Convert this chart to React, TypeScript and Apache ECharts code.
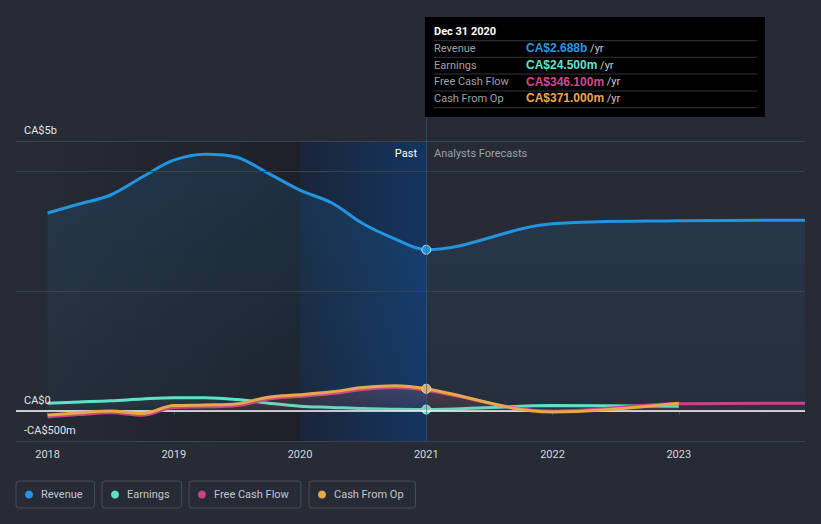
import React, { useEffect, useRef } from 'react';
import * as echarts from 'echarts';

// ---- data (values in CA$ billions, x in decimal years) ----
const pastYears = [2018, 2018.25, 2018.5, 2018.75, 2019, 2019.25, 2019.5, 2019.75, 2020, 2020.25, 2020.5, 2020.75, 2021];
const forecastYears = [2022, 2023, 2024];

const revenuePast = [3.3, 3.45, 3.6, 3.9, 4.18, 4.28, 4.23, 3.96, 3.68, 3.47, 3.12, 2.87, 2.688];
const revenueForecast = [3.12, 3.17, 3.18];
const earningsPast = [0.13, 0.15, 0.17, 0.2, 0.22, 0.22, 0.19, 0.13, 0.08, 0.06, 0.04, 0.03, 0.0245];
const earningsForecast = [0.09, 0.08];
const fcfPast = [-0.1, -0.06, -0.03, -0.07, 0.06, 0.07, 0.09, 0.2, 0.24, 0.29, 0.36, 0.39, 0.3461];
const fcfForecast = [0.0, 0.12, 0.13];
const cfoPast = [-0.067, -0.03, 0.0, -0.04, 0.09, 0.1, 0.12, 0.23, 0.27, 0.32, 0.39, 0.42, 0.371];
const cfoForecast = [-0.015, 0.13];

const seriesNames = ['Revenue', 'Earnings', 'Free Cash Flow', 'Cash From Op'];
const seriesColors = ['#2394df', '#5fe1c8', '#c94389', '#e8a74f'];
const xTickYears = [2018, 2019, 2020, 2021, 2022, 2023];
const tooltipDate = 'Dec 31 2020';
const markerYear = 2021;
const pastLabel = 'Past';
const forecastLabel = 'Analysts Forecasts';

const FONT = 'Roboto, "Noto Sans", sans-serif';
const BG = '#262b36';

function money(v: number): string {
  if (Math.abs(v) >= 1) return 'CA$' + v.toFixed(3) + 'b';
  return 'CA$' + (v * 1000).toFixed(3) + 'm';
}

function build(years: number[], vals: number[], fYears: number[], fVals: number[], marker: boolean, size: number) {
  const pts: any[] = years.map((y, i) => [y, vals[i]]);
  if (marker) {
    const last = pts.length - 1;
    pts[last] = {
      value: pts[last],
      symbol: 'circle',
      symbolSize: size,
    };
  }
  fYears.forEach((y, i) => {
    if (i < fVals.length) pts.push([y, fVals[i]]);
  });
  return pts;
}

export default function App() {
  const ref = useRef<HTMLDivElement>(null);

  useEffect(() => {
    document.body.style.margin = '0';
    document.body.style.background = BG;
    if (!ref.current) return;
    const chart = echarts.init(ref.current, null, { renderer: 'svg' });

    const datasets = [
      build(pastYears, revenuePast, forecastYears, revenueForecast, true, 9),
      build(pastYears, earningsPast, forecastYears, earningsForecast, true, 9),
      build(pastYears, fcfPast, forecastYears, fcfForecast, false, 9),
      build(pastYears, cfoPast, forecastYears, cfoForecast, true, 9),
    ];
    const areaAlpha = [0.2, 0.12, 0.18, 0.14];

    const hex2rgba = (h: string, a: number) => {
      const r = parseInt(h.slice(1, 3), 16), g = parseInt(h.slice(3, 5), 16), b = parseInt(h.slice(5, 7), 16);
      return `rgba(${r},${g},${b},${a})`;
    };

    const mainSeries: any[] = datasets.map((d, i) => ({
      name: seriesNames[i],
      type: 'line',
      data: d,
      smooth: 0.35,
      symbol: 'none',
      showSymbol: true,
      z: 3 + i,
      color: seriesColors[i],
      lineStyle: { width: 3, color: seriesColors[i] },
      itemStyle: { color: seriesColors[i], borderColor: '#d5dbe3', borderWidth: 1 },
      areaStyle: {
        color: new echarts.graphic.LinearGradient(0, 0, 0, 1, [
          { offset: 0, color: hex2rgba(seriesColors[i], areaAlpha[i]) },
          { offset: 1, color: hex2rgba(seriesColors[i], areaAlpha[i] * 0.25) },
        ]),
      },
      emphasis: { disabled: true },
    }));

    const gridLevels = [-0.5, 0, 2, 4, 4.5];
    const gridLabels: Record<string, string> = { '-0.5': '-CA$500m', '0': 'CA$0', '4.5': 'CA$5b' };

    const helper: any = {
      name: '__bg',
      type: 'line',
      data: [],
      z: 1,
      silent: true,
      markArea: {
        silent: true,
        data: [
          [
            {
              xAxis: 2017.75,
              itemStyle: {
                color: new echarts.graphic.LinearGradient(0, 0, 1, 0, [
                  { offset: 0, color: 'rgba(0,0,0,0)' },
                  { offset: 1, color: 'rgba(0,0,0,0.25)' },
                ]),
              },
            },
            { xAxis: 2020 },
          ],
          [
            {
              xAxis: 2020,
              itemStyle: {
                color: new echarts.graphic.LinearGradient(0, 0, 1, 0, [
                  { offset: 0, color: '#1a2538' },
                  { offset: 1, color: '#143561' },
                ]),
              },
            },
            { xAxis: markerYear },
          ],
        ],
      },
      markLine: {
        silent: true,
        symbol: 'none',
        data: gridLevels.map((v) => ({
          yAxis: v,
          lineStyle: v === 0
            ? { color: '#ffffff', width: 1.5, type: 'solid' }
            : { color: '#3d434e', width: 1, type: 'solid' },
          label: {
            show: gridLabels[String(v)] !== undefined,
            formatter: gridLabels[String(v)] || '',
            position: 'insideStartTop',
            distance: [8, 5],
            color: '#e2e4e8',
            fontSize: 11,
            fontFamily: FONT,
          },
        })),
      },
    };

    const legendLefts = [16, 102, 189, 309];

    const option: any = {
      animation: false,
      backgroundColor: BG,
      textStyle: { fontFamily: FONT },
      grid: { left: 16, right: 16, top: 141, bottom: 83 },
      xAxis: {
        type: 'value',
        min: 2017.75,
        max: 2024,
        axisLine: { show: true, lineStyle: { color: '#4a505b', width: 1 } },
        axisTick: { show: true, customValues: xTickYears, length: 4, lineStyle: { color: '#4a505b' } },
        axisLabel: {
          customValues: xTickYears,
          formatter: (v: number) => String(Math.round(v)),
          color: '#d6d8dc',
          fontSize: 11,
          fontFamily: FONT,
          margin: 8,
        },
        splitLine: { show: false },
      },
      yAxis: {
        type: 'value',
        min: -0.5,
        max: 4.5,
        axisLine: { show: false },
        axisTick: { show: false },
        axisLabel: { show: false },
        splitLine: { show: false },
      },
      legend: seriesNames.map((n, i) => ({
        data: [n],
        left: legendLefts[i],
        top: 481,
        icon: 'circle',
        itemWidth: 14,
        itemHeight: 8,
        padding: [6, 12, 6, 9],
        borderColor: '#474d59',
        borderWidth: 1,
        borderRadius: 3,
        selectedMode: false,
        itemStyle: { borderWidth: 0, color: seriesColors[i] },
        textStyle: { color: '#c3c6cc', fontSize: 11, fontFamily: FONT, lineHeight: 15 },
      })),
      series: [helper, ...mainSeries],
    };

    chart.setOption(option);

    const p = chart.convertToPixel({ xAxisIndex: 0, yAxisIndex: 0 }, [markerYear, 0]) as number[];
    const px = Math.round(p[0]);
    const gridBottom = 524 - 83;

    const idx = pastYears.length - 1;
    const rows = [
      { label: seriesNames[0], value: revenuePast[idx], color: '#2a97e2' },
      { label: seriesNames[1], value: earningsPast[idx], color: '#62e3ca' },
      { label: seriesNames[2], value: fcfPast[idx], color: '#d2498f' },
      { label: seriesNames[3], value: cfoPast[idx], color: '#eba94f' },
    ];
    const tipLeft = px - 1;
    const tipTop = 17;
    const tipW = 340;
    const tipH = 100;
    const sepYs = [23.7, 40.3, 57, 74, 90.7];
    const rowYs = [31.3, 48, 64.7, 81.3];

    const tipChildren: any[] = [
      { type: 'rect', shape: { x: 0, y: 0, width: tipW, height: tipH }, style: { fill: '#000000' } },
      {
        type: 'text',
        x: 9,
        y: 14,
        style: { text: tooltipDate, fill: '#ffffff', font: `bold 11px ${FONT}`, verticalAlign: 'middle', align: 'left' },
      },
      ...sepYs.map((y) => ({
        type: 'line',
        shape: { x1: 9, y1: y, x2: 332, y2: y },
        style: { stroke: '#333538', lineWidth: 1 },
      })),
      ...rows.flatMap((r, i) => [
        {
          type: 'text',
          x: 9,
          y: rowYs[i],
          style: { text: r.label, fill: '#9fa2a7', font: `11px ${FONT}`, verticalAlign: 'middle', align: 'left' },
        },
        {
          type: 'text',
          x: 101,
          y: rowYs[i],
          style: {
            text: `{v|${money(r.value)}}{u| /yr}`,
            verticalAlign: 'middle',
            align: 'left',
            rich: {
              v: { fill: r.color, font: `bold 11px ${FONT}`, fontWeight: 'bold' },
              u: { fill: '#c9cbcf', font: `11px ${FONT}` },
            },
          },
        },
      ]),
    ];

    chart.setOption({
      graphic: [
        {
          type: 'line',
          shape: { x1: px + 0.5, y1: tipTop + tipH, x2: px + 0.5, y2: gridBottom },
          style: { stroke: 'rgba(50,95,150,0.55)', lineWidth: 1 },
          silent: true,
          z: 50,
        },
        {
          type: 'text',
          x: px - 9,
          y: 153,
          z: 60,
          style: { text: pastLabel, fill: '#ffffff', font: `11px ${FONT}`, align: 'right', verticalAlign: 'middle' },
          silent: true,
        },
        {
          type: 'text',
          x: px + 8,
          y: 153,
          z: 60,
          style: { text: forecastLabel, fill: '#9ca0a7', font: `11px ${FONT}`, align: 'left', verticalAlign: 'middle' },
          silent: true,
        },
        { type: 'group', x: tipLeft, y: tipTop, children: tipChildren, silent: true, z: 100 },
      ],
    });

    return () => {
      chart.dispose();
    };
  }, []);

  return <div ref={ref} style={{ width: 821, height: 524 }} />;
}
